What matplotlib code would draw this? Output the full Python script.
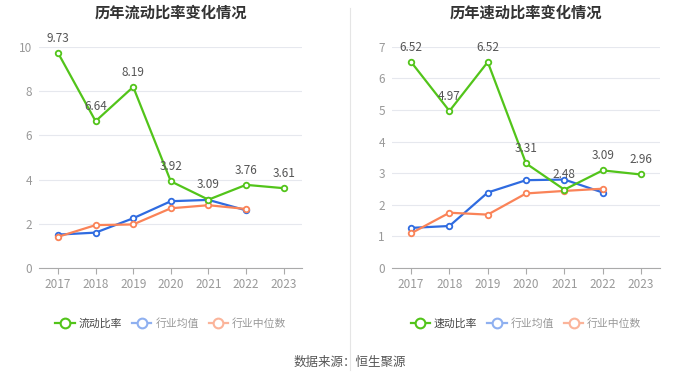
import matplotlib
matplotlib.use("Agg")
import matplotlib.pyplot as plt
from matplotlib.lines import Line2D

plt.rcParams['font.family'] = ['Noto Sans CJK SC', 'DejaVu Sans']

years = ['2017', '2018', '2019', '2020', '2021', '2022', '2023']

# 流动比率
current_ratio = [9.73, 6.64, 8.19, 3.92, 3.09, 3.76, 3.61]
current_avg = [1.51, 1.60, 2.25, 3.02, 3.08, 2.61]
current_med = [1.41, 1.94, 1.97, 2.70, 2.84, 2.67]

# 速动比率
quick_ratio = [6.52, 4.97, 6.52, 3.31, 2.48, 3.09, 2.96]
quick_avg = [1.27, 1.33, 2.39, 2.78, 2.80, 2.39]
quick_med = [1.10, 1.75, 1.69, 2.36, 2.44, 2.51]

green = '#52c41a'
blue = '#2f6be0'
orange = '#fa8358'
grey = '#999999'

fig = plt.figure(figsize=(7, 3.78), dpi=100)


def draw(ax, title, main, avg, med, ymax, name):
    x = list(range(len(years)))
    ax.plot(x, main, color=green, lw=1.6, marker='o', ms=4, mfc='white', mec=green, mew=1.3, zorder=3)
    ax.plot(x[:len(avg)], avg, color=blue, lw=1.6, marker='o', ms=4, mfc='white', mec=blue, mew=1.3, zorder=2)
    ax.plot(x[:len(med)], med, color=orange, lw=1.6, marker='o', ms=4, mfc='white', mec=orange, mew=1.3, zorder=2)
    for i, v in enumerate(main):
        ax.annotate('%.2f' % v, (i, v), textcoords='offset points', xytext=(0, 6),
                    ha='center', va='bottom', fontsize=8.5, color='#555555')
    ax.set_xlim(-0.5, len(years) - 0.5)
    ax.set_ylim(0, ymax)
    ax.set_xticks(x)
    ax.set_xticklabels(years)
    ax.yaxis.grid(True, color='#e6e8ee', lw=0.8)
    ax.set_axisbelow(True)
    for s in ['top', 'right', 'left']:
        ax.spines[s].set_visible(False)
    ax.spines['bottom'].set_color('#aaaaaa')
    ax.tick_params(axis='y', length=0, colors=grey, labelsize=8.5, pad=5)
    ax.tick_params(axis='x', length=4, color='#aaaaaa', colors=grey, labelsize=8.5)
    ax.set_title(title, fontsize=11, fontweight='bold', color='#333333', pad=21)
    handles = [
        Line2D([], [], color=green, lw=1.6, marker='o', ms=7, mfc='white', mec=green, mew=1.5),
        Line2D([], [], color='#8fb0f0', lw=1.6, marker='o', ms=7, mfc='white', mec='#8fb0f0', mew=1.5),
        Line2D([], [], color='#fbb49a', lw=1.6, marker='o', ms=7, mfc='white', mec='#fbb49a', mew=1.5),
    ]
    leg = ax.legend(handles, [name, '行业均值', '行业中位数'], loc='center', bbox_to_anchor=(0.5, -0.25),
                    ncol=3, frameon=False, fontsize=7.8, handlelength=1.8, columnspacing=0.9,
                    handletextpad=0.35)
    for t, c in zip(leg.get_texts(), ['#444444', grey, grey]):
        t.set_color(c)


ax1 = fig.add_axes([0.056, 0.291, 0.376, 0.585])
draw(ax1, '历年流动比率变化情况', current_ratio, current_avg, current_med, 10, '流动比率')
ax1.set_yticks([0, 2, 4, 6, 8, 10])

ax2 = fig.add_axes([0.56, 0.291, 0.383, 0.585])
draw(ax2, '历年速动比率变化情况', quick_ratio, quick_avg, quick_med, 7, '速动比率')
ax2.set_yticks(range(0, 8))

fig.add_artist(Line2D([0.5, 0.5], [0.02, 0.98], color='#e5e5e5', lw=0.8))
fig.text(0.5, 0.042, '数据来源：恒生聚源', ha='center', va='center', fontsize=9, color='#555555')

fig.savefig('out.png', dpi=100)
